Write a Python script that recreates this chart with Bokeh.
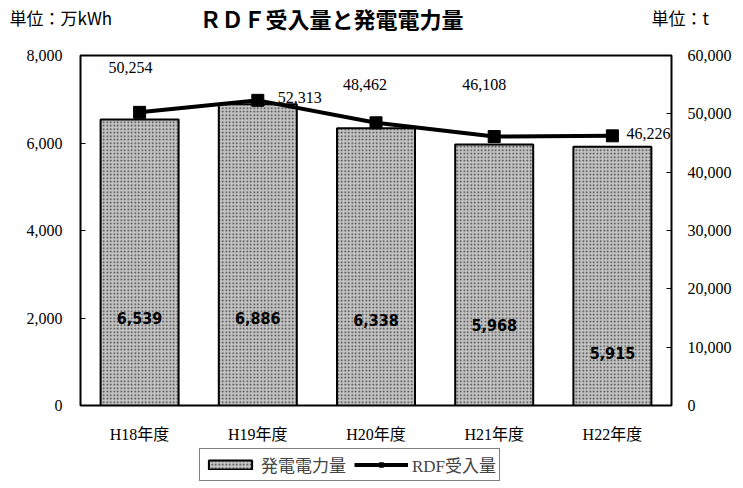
from bokeh.plotting import figure
from bokeh.layouts import column
from bokeh.core.properties import value
from bokeh.models import (ColumnDataSource, FactorRange, Range1d, LinearAxis, LabelSet, Label,
                          Legend, LegendItem, NumeralTickFormatter, SingleIntervalTicker)
from bokeh.embed import file_html
from bokeh.resources import INLINE

# ---- data ----
years = ["H18年度", "H19年度", "H20年度", "H21年度", "H22年度"]
power = [6539, 6886, 6338, 5968, 5915]          # 発電電力量 (万kWh)
rdf = [50254, 52313, 48462, 46108, 46226]        # RDF受入量 (t)
title_text = "ＲＤＦ受入量と発電電力量"
left_unit = "単位：万kWh"
right_unit = "単位：t"
series_names = ["発電電力量", "RDF受入量"]

# ---- layout helpers (label placement, not data) ----
bar_label_y = [2000, 2000, 1950, 1850, 1200]
rdf_label_dx = [-9, 42, -11, -10, 36]
rdf_label_dy = [45, 3, 38, 52, 2]

SERIF = "Liberation Serif, Noto Sans CJK JP"
CJK = "Noto Sans CJK JP"
W = 743
HEAD = 36
FOOT = 40
MAIN = 488 - HEAD - FOOT

BAR_STYLE = dict(fill_color="#c4c4c4", line_color="black", line_width=2,
                 hatch_pattern="dot", hatch_color="#3a3a3a", hatch_scale=3.5, hatch_weight=1)
LINE_STYLE = dict(line_color="black", line_width=4)
MARK_STYLE = dict(marker="square", size=12, fill_color="black", line_color="black")


def bare(fig):
    fig.axis.visible = False
    fig.grid.visible = False
    fig.outline_line_color = None
    fig.border_fill_color = "white"
    fig.background_fill_color = "white"
    fig.frame_align = False


src = ColumnDataSource(dict(
    x=years, power=power, rdf=rdf,
    power_txt=[f"{v:,}" for v in power],
    rdf_txt=[f"{v:,}" for v in rdf],
    bly=bar_label_y, dx=rdf_label_dx, dy=rdf_label_dy,
))

# ---- header row (title and units) ----
head = figure(width=W, height=HEAD, x_range=Range1d(0, W), y_range=Range1d(0, HEAD),
              output_backend="svg", toolbar_location=None, min_border=0,
              min_border_left=0, min_border_right=0, min_border_top=0, min_border_bottom=0)
bare(head)
head.add_layout(Label(x=331, y=HEAD - 17, text=title_text, text_align="center", text_baseline="middle",
                      text_font=CJK, text_font_size="22px", text_font_style="bold", text_color="black"))
head.add_layout(Label(x=9, y=HEAD - 17, text=left_unit, text_align="left", text_baseline="middle",
                      text_font=CJK, text_font_size="17px", text_color="black"))
head.add_layout(Label(x=651, y=HEAD - 17, text=right_unit, text_align="left", text_baseline="middle",
                      text_font=CJK, text_font_size="17px", text_color="black"))

# ---- main chart ----
p = figure(width=W, height=MAIN, x_range=FactorRange(*years), y_range=Range1d(0, 8000),
           output_backend="svg", toolbar_location=None,
           min_border_left=80, min_border_right=72, min_border_top=55 - HEAD,
           min_border_bottom=MAIN - (55 - HEAD) - 350)
p.frame_align = False
p.extra_y_ranges = {"right": Range1d(0, 60000)}

p.xgrid.visible = False
p.ygrid.visible = False
p.outline_line_color = "black"
p.outline_line_width = 2
p.background_fill_color = "white"
p.border_fill_color = "white"

ly = p.yaxis[0]
ly.ticker = SingleIntervalTicker(interval=2000)
ly.formatter = NumeralTickFormatter(format="0,0")
ly.major_tick_in = 5
ly.major_tick_out = 0
ly.minor_tick_line_color = None
ly.axis_line_color = "black"
ly.major_label_text_font = SERIF
ly.major_label_text_font_size = "16px"
ly.major_label_text_color = "black"
ly.major_label_standoff = 14

ry = LinearAxis(y_range_name="right")
ry.ticker = SingleIntervalTicker(interval=10000)
ry.formatter = NumeralTickFormatter(format="0,0")
ry.major_tick_in = 5
ry.major_tick_out = 0
ry.minor_tick_line_color = None
ry.axis_line_color = "black"
ry.major_label_text_font = SERIF
ry.major_label_text_font_size = "16px"
ry.major_label_text_color = "black"
ry.major_label_standoff = 12
p.add_layout(ry, "right")

xa = p.xaxis[0]
xa.major_tick_line_color = None
xa.axis_line_color = "black"
xa.major_label_text_font = SERIF
xa.major_label_text_font_size = "16px"
xa.major_label_text_color = "black"
xa.major_label_standoff = 14

p.vbar(x="x", top="power", width=0.66, source=src, **BAR_STYLE)
p.line(x="x", y="rdf", source=src, y_range_name="right", **LINE_STYLE)
p.scatter(x="x", y="rdf", source=src, y_range_name="right", **MARK_STYLE)

p.add_layout(LabelSet(x="x", y="bly", text="power_txt", source=src, text_align="center",
                      text_baseline="middle", text_font=value("DejaVu Sans Condensed, Liberation Sans"),
                      text_font_size="16px", text_font_style="bold", text_color="black"))
p.add_layout(LabelSet(x="x", y="rdf", y_range_name="right", text="rdf_txt", source=src,
                      x_offset="dx", y_offset="dy", text_align="center", text_baseline="middle",
                      text_font=value(SERIF), text_font_size="16px", text_color="black"))

# ---- footer row (legend); legend proxies share the data but are hidden ----
foot = figure(width=W, height=FOOT, x_range=FactorRange(*years), y_range=Range1d(0, 60000),
              output_backend="svg", toolbar_location=None, min_border=0,
              min_border_left=0, min_border_right=0, min_border_top=0, min_border_bottom=0)
bare(foot)
pb = foot.vbar(x="x", top="power", width=0.66, source=src, visible=False, **BAR_STYLE)
pl = foot.line(x="x", y="rdf", source=src, visible=False, **LINE_STYLE)
pm = foot.scatter(x="x", y="rdf", source=src, visible=False, **MARK_STYLE)
legend = Legend(items=[LegendItem(label=series_names[0], renderers=[pb]),
                       LegendItem(label=series_names[1], renderers=[pl, pm])],
                orientation="horizontal", location=(199, 7),
                border_line_color="black", border_line_width=1,
                label_text_font=SERIF, label_text_font_size="17px",
                glyph_width=54, glyph_height=11, spacing=8, padding=3, margin=0,
                label_standoff=4, background_fill_color="white",
                inactive_fill_alpha=0)
foot.add_layout(legend, "center")

open("out.html", "w").write(file_html(column(head, p, foot, spacing=0), INLINE))
